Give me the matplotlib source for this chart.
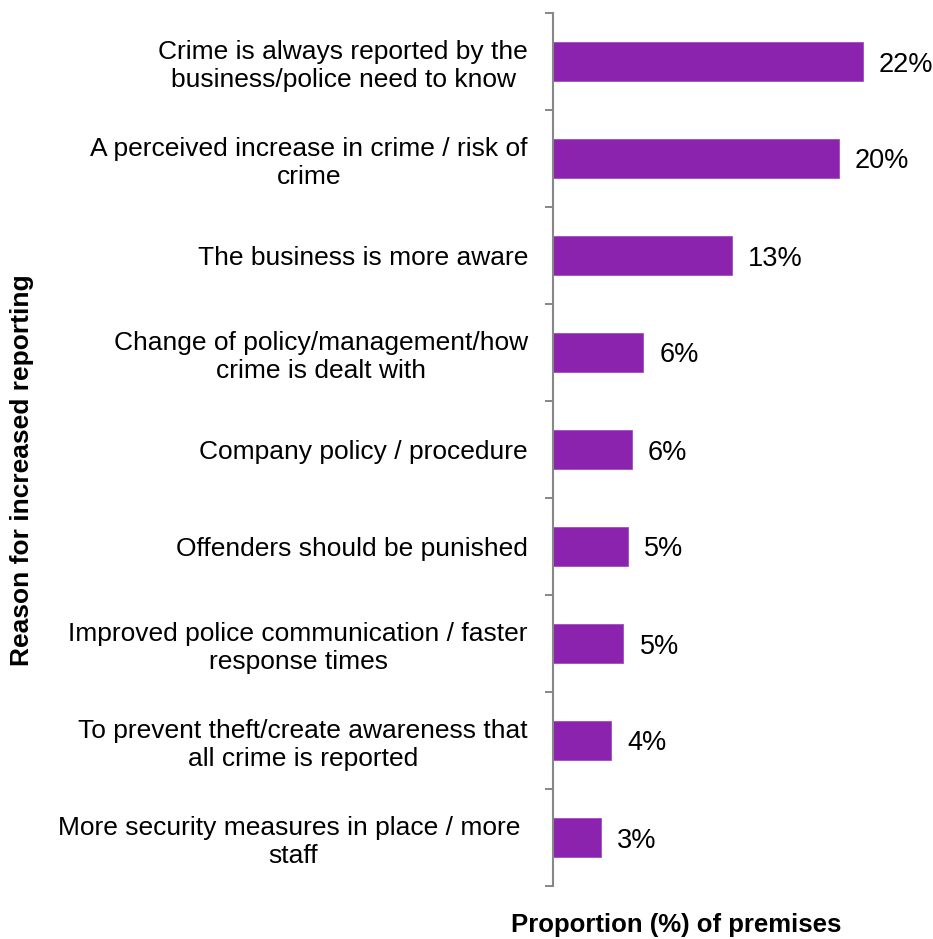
import numpy as np
import matplotlib.pyplot as plt

plt.rcParams['font.family'] = ['Liberation Sans', 'DejaVu Sans']

reasons = [
    "Crime is always reported by the\nbusiness/police need to know",
    "A perceived increase in crime / risk of\ncrime",
    "The business is more aware",
    "Change of policy/management/how\ncrime is dealt with",
    "Company policy / procedure",
    "Offenders should be punished",
    "Improved police communication / faster\nresponse times",
    "To prevent theft/create awareness that\nall crime is reported",
    "More security measures in place / more \nstaff",
]
share = [22.0, 20.3, 12.7, 6.4, 5.6, 5.3, 5.0, 4.1, 3.4]

bar_col = '#8B23AF'
axis_col = '#878787'

fig = plt.figure(figsize=(9.33, 9.39), dpi=100)
ax = fig.add_axes([553/933, 1 - 886/939, 1 - 553/933, 873/939])

y = np.arange(len(reasons))
ax.barh(y, share, height=0.4, color=bar_col, edgecolor='#A04CC0', linewidth=0.6)

for yi, v in zip(y, share):
    ax.text(v + 1.15, yi, "%d%%" % round(v), va='center_baseline', ha='left',
            fontsize=19.5, color='black')

ax.set_xlim(0, 27)
ax.set_ylim(len(reasons) - 0.5, -0.5)

# labels at bar centres, tick marks between categories
ax.set_yticks(y)
ax.set_yticklabels(reasons, fontsize=19, ha='right', multialignment='center', linespacing=1.22)
ax.set_yticks(np.arange(len(reasons) + 1) - 0.5, minor=True)
ax.tick_params(axis='y', which='major', length=0, pad=18)
ax.tick_params(axis='y', which='minor', length=6, width=1.4, color=axis_col, direction='out')
ax.set_xticks([])

for s in ['top', 'right', 'bottom']:
    ax.spines[s].set_visible(False)
ax.spines['left'].set_color(axis_col)
ax.spines['left'].set_linewidth(1.5)

fig.text(22/933, 1 - 470/939, "Reason for increased reporting", rotation=90,
         ha='center', va='center', fontsize=19, fontweight='bold')
fig.text(676/933, 1 - 925/939, "Proportion (%) of premises",
         ha='center', va='center', fontsize=18.5, fontweight='bold')

plt.savefig('out.png', dpi=100)
